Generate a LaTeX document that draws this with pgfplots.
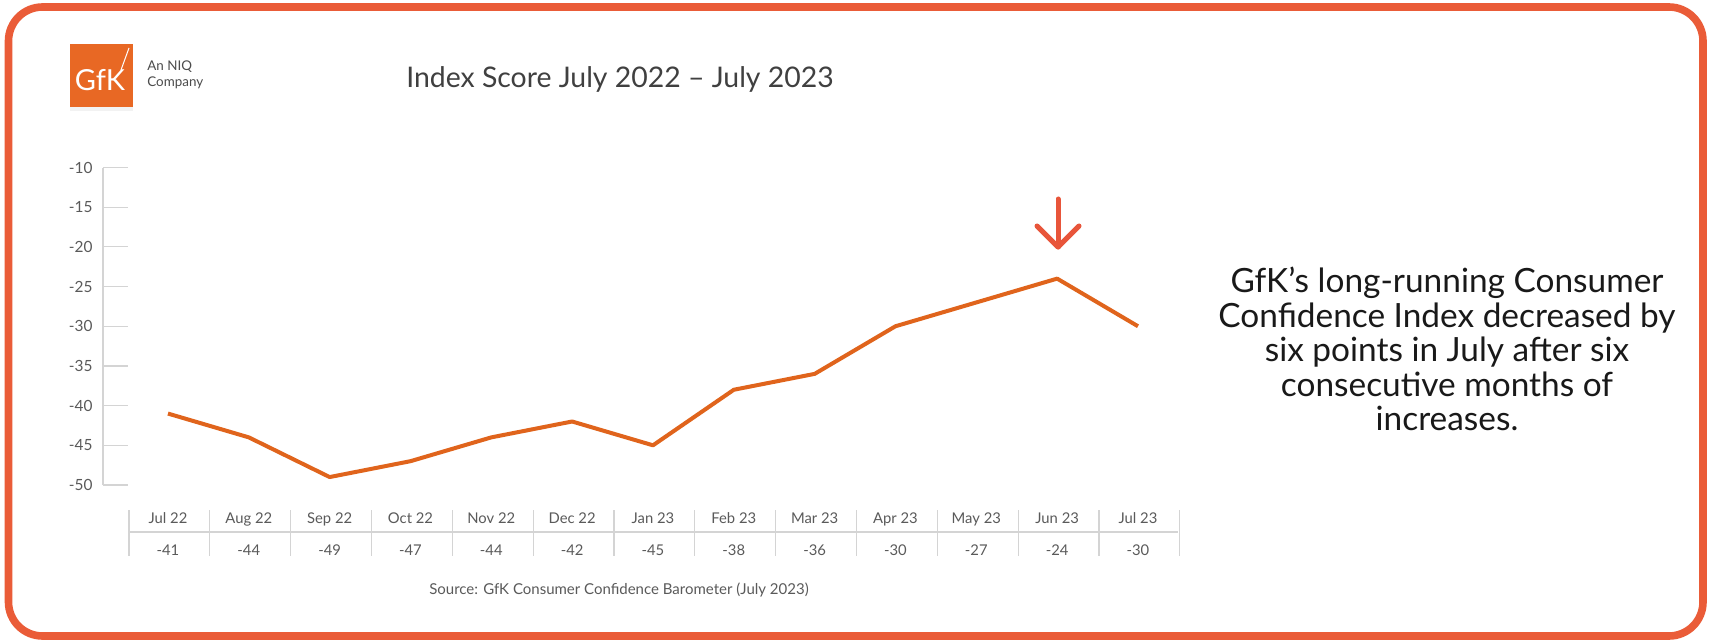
\documentclass[border=0pt]{standalone}
\usepackage{fontspec}
\setmainfont{Lato}
\usepackage{pgfplots}
\usepackage{pgfplotstable}
\pgfplotsset{compat=1.18}
\definecolor{gfkorange}{RGB}{224,100,28}
\definecolor{bordercol}{RGB}{234,92,56}
\definecolor{arrowcol}{RGB}{232,85,58}
\definecolor{logoorange}{RGB}{232,104,36}
\definecolor{gridgray}{RGB}{212,212,212}
\definecolor{labgray}{RGB}{90,90,90}

\pgfplotstableread{
x y
0 -41
1 -44
2 -49
3 -47
4 -44
5 -42
6 -45
7 -38
8 -36
9 -30
10 -27
11 -24
12 -30
}\datatable

\begin{document}
\begin{tikzpicture}
\begin{scope}[x=0.5pt,y=-0.5pt]
\useasboundingbox (0,0) rectangle (1710,642);
\fill[white] (0,0) rectangle (1710,642);
\draw[bordercol, line width=3.8pt, rounded corners=17pt] (8.5,7) rectangle (1703,636);
% logo
\fill[black!5] (70,107) rectangle (133,111);
\fill[logoorange] (70,44) rectangle (133,107);
\node[white, font=\fontsize{14.5}{15}\selectfont, inner sep=0pt] at (100,80) {GfK};
\draw[white, line width=0.5pt] (121,70) -- (129,48);
\node[anchor=west, text=black!70, font=\fontsize{6.7}{8}\selectfont, align=left, inner sep=0pt] at (147,75) {An NIQ\\Company};
% title
\node[text=black!75, font=\fontsize{14.2}{16}\selectfont] at (620,79) {Index Score July 2022 – July 2023};
% table lines
\draw[gridgray, line width=0.6pt] (129,532) -- (1178,532);
\foreach \k in {0,...,13} {
  \draw[gridgray, line width=0.6pt] (129+80.83*\k,510) -- (129+80.83*\k,556);
}
% source
\node[text=labgray, font=\fontsize{7.5}{9}\selectfont] at (619,590) {Source: GfK Consumer Confidence Barometer (July 2023)};
% arrow
\draw[arrowcol, line width=2.5pt, line cap=round, line join=round] (1058,199) -- (1058,247);
\draw[arrowcol, line width=2.5pt, line cap=round, line join=round] (1037,226) -- (1058,247) -- (1079,226);
% right text
\node[align=center, text=black!90, font=\fontsize{16.7}{17.2}\selectfont] at (1447,349) {GfK’s long-running Consumer\\Confidence Index decreased by\\six points in July after six\\consecutive months of\\increases.};
\end{scope}

\begin{axis}[
  at={(51.5pt,-242.5pt)}, anchor=south west,
  scale only axis, width=537.7pt, height=158.75pt,
  xmin=-0.804, xmax=12.5, ymin=-50, ymax=-10,
  axis y line=left, axis x line=bottom,
  axis line style={-, draw=gridgray, line width=0.6pt},
  x axis line style={draw=none},
  ytick={-50,-45,...,-10},
  ytick style={draw=gridgray, line width=0.6pt},
  tick align=inside, major tick length=12.5pt,
  /pgf/number format/assume math mode=true,
  yticklabel style={text=labgray, font=\fontsize{7.7}{9}\selectfont, xshift=-1.7pt},
  xtick={0,...,12},
  xtick style={draw=none},
  xticklabels={{Jul 22\\[8pt]-41},{Aug 22\\[8pt]-44},{Sep 22\\[8pt]-49},{Oct 22\\[8pt]-47},{Nov 22\\[8pt]-44},{Dec 22\\[8pt]-42},{Jan 23\\[8pt]-45},{Feb 23\\[8pt]-38},{Mar 23\\[8pt]-36},{Apr 23\\[8pt]-30},{May 23\\[8pt]-27},{Jun 23\\[8pt]-24},{Jul 23\\[8pt]-30}},
  xticklabel style={align=center, anchor=north, inner sep=0pt, yshift=-13.8pt, text=labgray, font=\fontsize{7.4}{8}\selectfont},
]
\addplot[gfkorange, line width=2pt, line join=round, mark=none] table {\datatable};
\end{axis}
\end{tikzpicture}
\end{document}
